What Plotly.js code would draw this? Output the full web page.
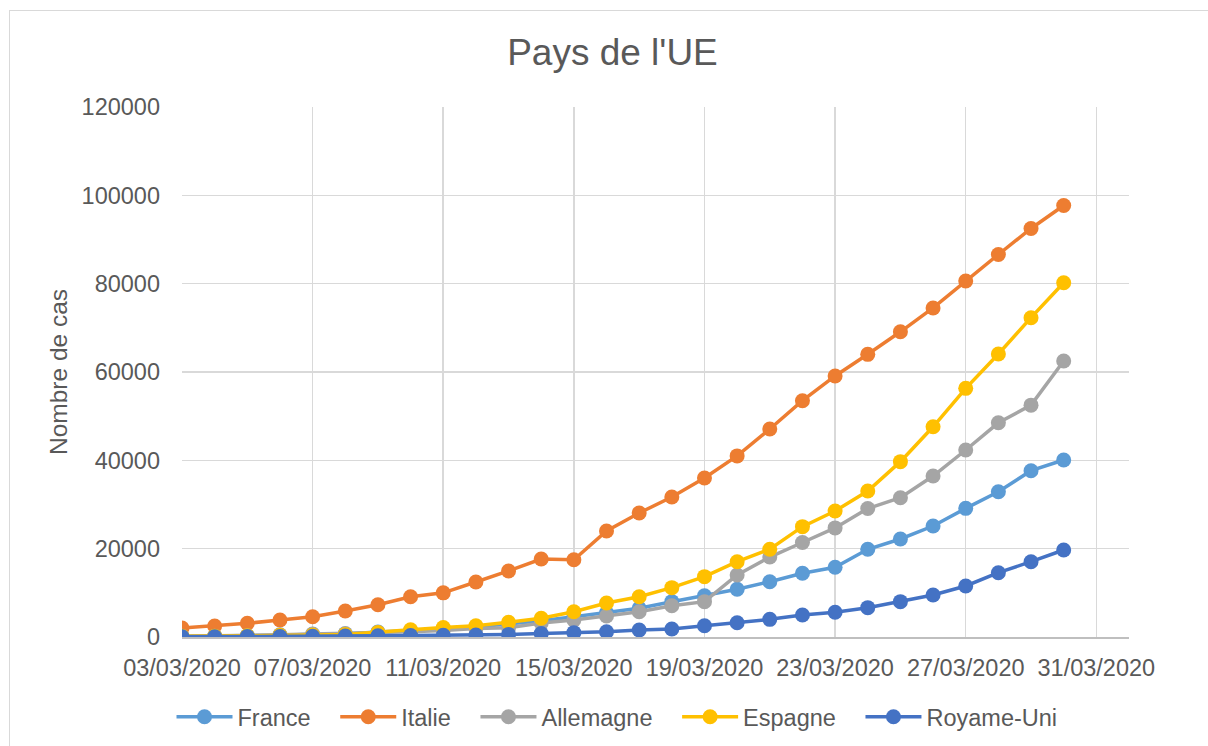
<!DOCTYPE html>
<html>
<head>
<meta charset="utf-8">
<script src="https://cdn.plot.ly/plotly-3.0.1.min.js"></script>
<style>
  html, body { margin: 0; padding: 0; overflow: hidden; background: #fff; }
  #frame {
    position: absolute; left: 9px; top: 10px;
    width: 1260px; height: 800px;
    border: 1px solid #d9d9d9; box-sizing: border-box;
  }
  #chart { position: absolute; left: 0; top: 0; width: 1208px; height: 746px; }
</style>
</head>
<body>
<div id="frame"></div>
<div id="chart"></div>
<script>
const dates = [
  "2020-03-03", "2020-03-04", "2020-03-05", "2020-03-06", "2020-03-07",
  "2020-03-08", "2020-03-09", "2020-03-10", "2020-03-11", "2020-03-12",
  "2020-03-13", "2020-03-14", "2020-03-15", "2020-03-16", "2020-03-17",
  "2020-03-18", "2020-03-19", "2020-03-20", "2020-03-21", "2020-03-22",
  "2020-03-23", "2020-03-24", "2020-03-25", "2020-03-26", "2020-03-27",
  "2020-03-28", "2020-03-29", "2020-03-30"
];

const france = [191, 212, 285, 423, 613, 706, 1116, 1402, 1774, 2281, 2876, 3660,
  4600, 5500, 6500, 8000, 9350, 10800, 12520, 14420, 15780, 19860, 22190, 25130,
  29130, 32900, 37650, 40070];

const italie = [2040, 2500, 3100, 3860, 4600, 5880, 7300, 9100, 10000, 12450, 14950,
  17660, 17500, 24000, 28070, 31700, 36000, 41000, 47100, 53500, 59100, 64000,
  69100, 74500, 80600, 86600, 92500, 97700];

const allemagne = [150, 196, 262, 482, 670, 799, 1040, 1176, 1457, 1908, 2078, 3170,
  3850, 4750, 5730, 7090, 8000, 14040, 18100, 21400, 24700, 29100, 31540, 36450,
  42340, 48500, 52500, 62500];

const espagne = [151, 198, 257, 374, 430, 589, 1024, 1639, 2140, 2560, 3320, 4230,
  5730, 7700, 9130, 11170, 13660, 17050, 19860, 24980, 28530, 33060, 39700, 47600,
  56300, 64070, 72300, 80200];

const royaumeUni = [40, 51, 85, 114, 160, 206, 271, 321, 373, 456, 590, 797,
  980, 1200, 1580, 1800, 2560, 3240, 4000, 4980, 5590, 6640, 8000, 9500,
  11550, 14560, 17050, 19700];

const seriesNames = ["France", "Italie", "Allemagne", "Espagne", "Royame-Uni"];
const seriesValues = [france, italie, allemagne, espagne, royaumeUni];
const seriesColors = ["#5b9bd5", "#ed7d31", "#a5a5a5", "#ffc000", "#4472c4"];

const yTicks = [0, 20000, 40000, 60000, 80000, 100000, 120000];

const textColor = "#595959";
const gridColor = "#d9d9d9";

// excel leaves a wider gap between legend entries than plotly does
const legendPad = "\u00a0\u00a0\u00a0";

let traces = seriesNames.map((name, i) => ({
  x: dates,
  y: seriesValues[i],
  name: i < seriesNames.length - 1 ? name + legendPad : name,
  type: "scatter",
  mode: "lines+markers",
  line: { color: seriesColors[i], width: 3.5 },
  marker: { color: seriesColors[i], size: 15 },
  hoverinfo: "skip",
}));

let layout = {
  width: 1208,
  height: 746,
  paper_bgcolor: "rgba(0,0,0,0)",
  plot_bgcolor: "#ffffff",
  margin: { l: 182, r: 79, t: 107, b: 109 },
  font: { family: "Liberation Sans, Arial, sans-serif", size: 23.5, color: textColor },
  title: {
    text: "Pays de l'UE",
    font: { size: 37, color: textColor },
    x: 0.507,
    xanchor: "center",
    yref: "container",
    y: 1 - 52 / 746,
    yanchor: "middle",
  },
  xaxis: {
    type: "date",
    range: ["2020-03-03", "2020-04-01"],
    tick0: "2020-03-03",
    dtick: 4 * 86400000,
    tickformat: "%d/%m/%Y",
    showgrid: true,
    gridcolor: gridColor,
    gridwidth: 1.5,
    showline: true,
    linecolor: "#bfbfbf",
    linewidth: 1.5,
    ticks: "",
    ticklabelstandoff: 9,
    zeroline: false,
    fixedrange: true,
  },
  yaxis: {
    range: [0, 120000],
    tickmode: "array",
    tickvals: yTicks,
    ticktext: yTicks.map(String),
    showgrid: true,
    gridcolor: gridColor,
    gridwidth: 1.5,
    zeroline: false,
    showline: false,
    ticks: "",
    ticklabelstandoff: 21,
    title: { text: "Nombre de cas", font: { size: 24.5, color: textColor }, standoff: 7 },
    fixedrange: true,
  },
  showlegend: true,
  legend: {
    orientation: "h",
    xref: "container",
    x: 617 / 1208,
    xanchor: "center",
    yref: "container",
    y: 1 - 717 / 746,
    yanchor: "middle",
    itemwidth: 56,
    font: { size: 23.5, color: textColor },
    bgcolor: "rgba(0,0,0,0)",
  },
};

Plotly.newPlot("chart", traces, layout, { displayModeBar: false, staticPlot: true });
</script>
</body>
</html>
